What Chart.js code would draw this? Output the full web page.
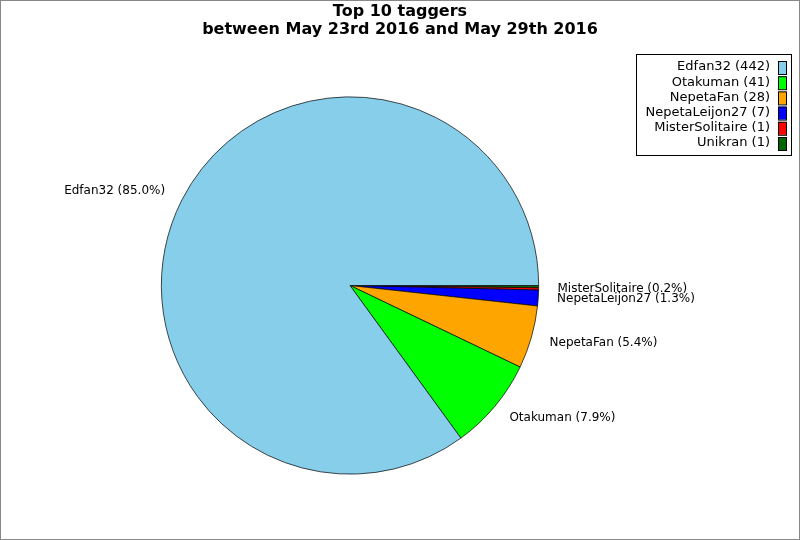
<!DOCTYPE html>
<html><head><meta charset="utf-8">
<script src="https://cdn.jsdelivr.net/npm/chart.js@4/dist/chart.umd.min.js"></script>
<style>html,body{margin:0;padding:0;background:#fff}#wrap{width:800px;height:540px;position:relative;box-sizing:border-box;border:1px solid #888}canvas{display:block}</style>
</head><body><div id="wrap"><canvas id="c" width="798" height="538"></canvas></div>
<script>
const categories = ['Edfan32','Otakuman','NepetaFan','NepetaLeijon27','MisterSolitaire','Unikran'];
const values = [442, 41, 28, 7, 1, 1];
const colors = ['#87CEEB','#00FF00','#FFA500','#0000FF','#FF0000','#006400'];
const hiddenSliceLabels = ['Unikran'];
const titleLines = ['Top 10 taggers','between May 23rd 2016 and May 29th 2016'];

const total = values.reduce((a,b)=>a+b,0);
const rev = a => a.slice().reverse();

const overlay = {
  id:'overlay',
  afterDraw(chart){
    const ctx = chart.ctx;
    ctx.save();
    // title
    ctx.fillStyle = '#000';
    ctx.font = 'bold 16px "DejaVu Sans"';
    ctx.textAlign = 'center'; ctx.textBaseline = 'middle';
    ctx.fillText(titleLines[0], 399, 11);
    ctx.fillText(titleLines[1], 399, 29);
    // slice labels
    const meta = chart.getDatasetMeta(0);
    ctx.font = '12px "DejaVu Sans"';
    meta.data.forEach((arc, i) => {
      const name = chart.data.labels[i];
      if (hiddenSliceLabels.includes(name)) return;
      const v = chart.data.datasets[0].data[i];
      const mid = (arc.startAngle + arc.endAngle)/2;
      const r = arc.outerRadius*1.1;
      const x = arc.x + Math.cos(mid)*r, y = arc.y + Math.sin(mid)*r;
      ctx.textAlign = Math.cos(mid) >= 0 ? 'left' : 'right';
      ctx.textBaseline = 'middle';
      ctx.fillText(name + ' (' + (v/total*100).toFixed(1) + '%)', x, y);
    });
    // legend
    const lx = 635, ly = 53, lw = 155, lh = 101;
    ctx.fillStyle = '#fff'; ctx.fillRect(lx, ly, lw, lh);
    ctx.strokeStyle = '#000'; ctx.lineWidth = 1;
    ctx.strokeRect(lx+0.5, ly+0.5, lw, lh);
    ctx.font = '13px "DejaVu Sans"';
    ctx.textAlign = 'right'; ctx.textBaseline = 'middle';
    categories.forEach((c, i) => {
      const y = ly + 13 + i*15.2;
      ctx.fillStyle = '#000';
      ctx.fillText(c + ' (' + values[i] + ')', 769, y);
      ctx.fillStyle = colors[i];
      ctx.fillRect(777, y-6, 8, 13);
      ctx.strokeRect(777.5, y-6+0.5, 8, 13);
    });
    ctx.restore();
  }
};

new Chart(document.getElementById('c'), {
  type:'pie',
  data:{ labels: rev(categories), datasets:[{ data: rev(values), backgroundColor: rev(colors), borderColor:'#000', borderWidth:0.7 }]},
  options:{
    responsive:false, animation:false, rotation:90,
    layout:{ padding:{ left:160, right:260, top:95, bottom:64 } },
    plugins:{ legend:{display:false}, title:{display:false}, tooltip:{enabled:false} }
  },
  plugins:[overlay]
});
</script></body></html>
